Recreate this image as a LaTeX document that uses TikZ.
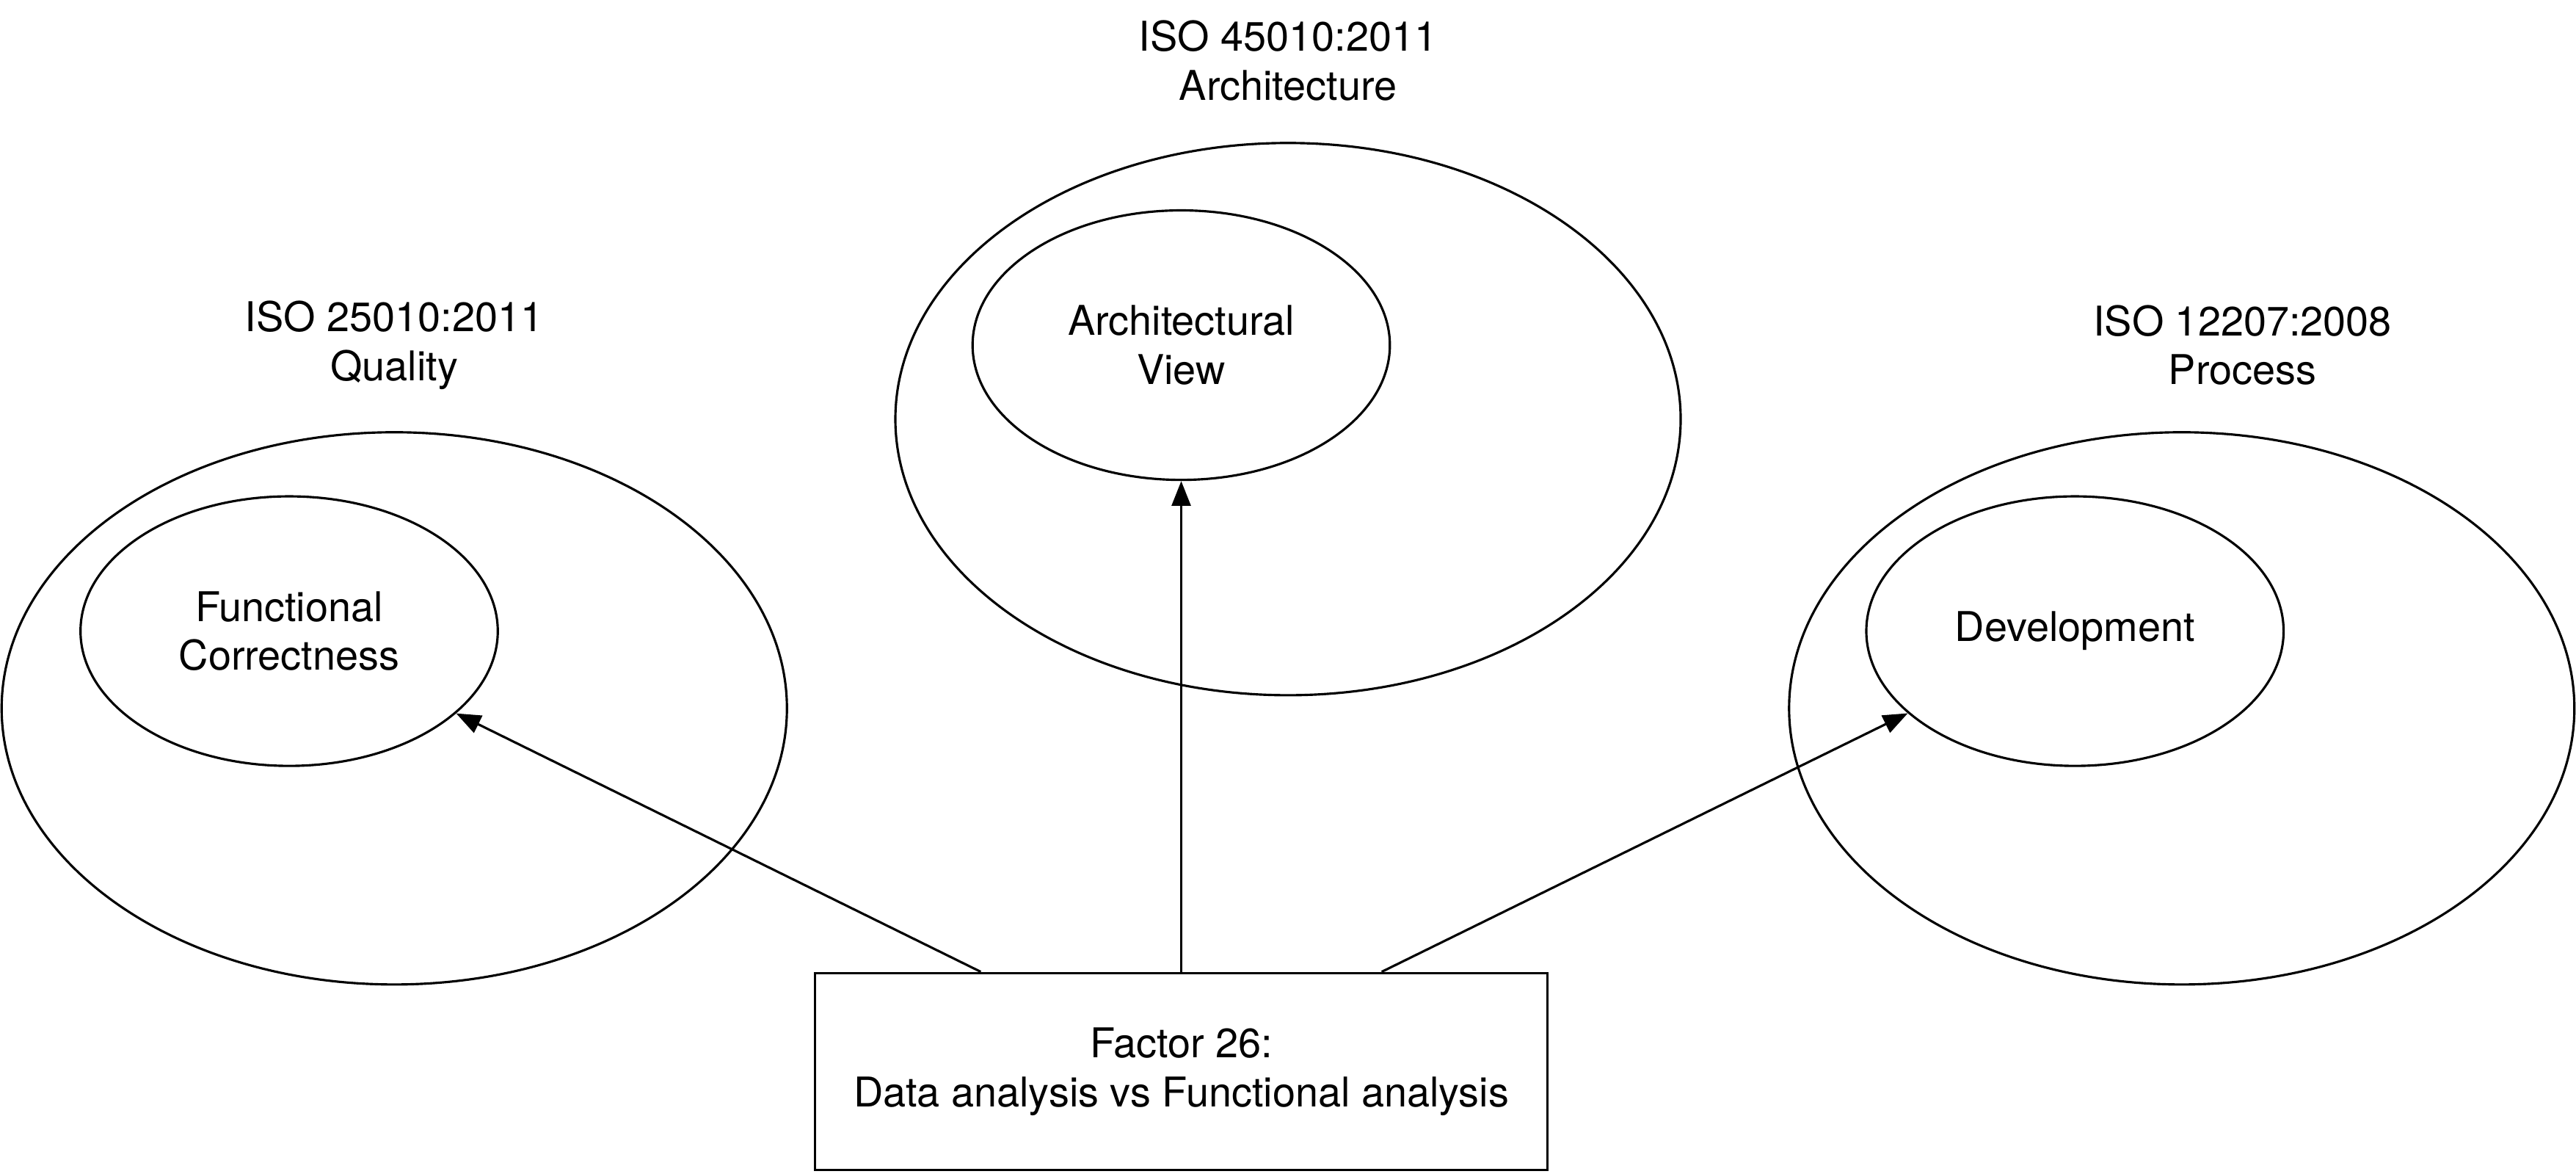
\documentclass[tikz,border=0pt]{standalone}
\usepackage{fontspec}
\setmainfont{TeX Gyre Heros}
\usetikzlibrary{arrows.meta, positioning, shapes.geometric}
\newcommand{\diagfont}{\fontsize{14.2}{17}\selectfont}

\begin{document}
\begin{tikzpicture}[
  outer/.style={draw, line width=0.8pt, ellipse, inner sep=0pt, minimum width=9.56cm, minimum height=6.72cm},
  inner/.style={draw, line width=0.8pt, ellipse, inner sep=0pt, minimum width=5.08cm, minimum height=3.28cm, align=center, font=\diagfont},
  stdlabel/.style={align=center, font=\diagfont},
  link/.style={-{Triangle[length=3mm, width=2.3mm]}, line width=0.8pt}
]
  \useasboundingbox (0,0) rectangle (31.36,14.28);

  % standards
  \node[outer] (quality) at (4.80,5.66) {};
  \node[outer] (archi) at (15.68,9.18) {};
  \node[outer] (process) at (26.56,5.66) {};
  \node[stdlabel] (qualitylbl) at (4.80,10.08) {ISO 25010:2011\\Quality};
  \node[stdlabel] (archilbl) at (15.68,13.54) {ISO 45010:2011\\Architecture};
  \node[stdlabel] (processlbl) at (27.30,10.08) {ISO 12207:2008\\Process};

  % characteristics
  \node[inner] (correct) at (3.52,6.60) {Functional\\Correctness};
  \node[inner] (view) at (14.38,10.08) {Architectural\\View};
  \node[inner] (devel) at (25.26,6.60) {Development};

  % factor
  \node[draw, line width=0.8pt, minimum width=8.92cm, minimum height=2.40cm, align=center, font=\diagfont] (factor) at (14.38,1.24) {Factor 26:\\Data analysis vs Functional analysis};

  \draw[link] ([xshift=-2.44cm]factor.north) -- (correct);
  \draw[link] (factor.north) -- (view);
  \draw[link] ([xshift=2.44cm]factor.north) -- (devel);
\end{tikzpicture}
\end{document}
